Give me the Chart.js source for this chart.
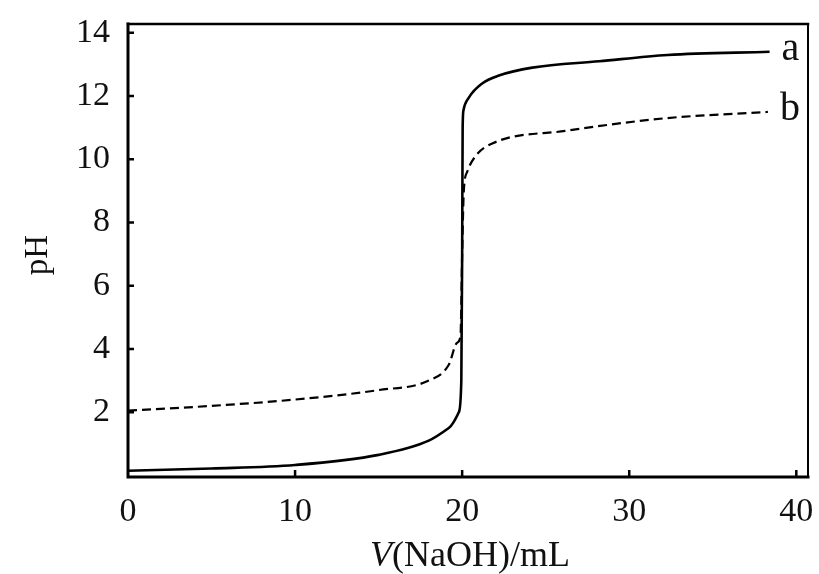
<!DOCTYPE html>
<html>
<head>
<meta charset="utf-8">
<script src="https://cdn.jsdelivr.net/npm/chart.js@4"></script>
<style>
  html, body { margin: 0; padding: 0; background: #fff; }
  #wrap { width: 819px; height: 574px; }
</style>
</head>
<body>
<div id="wrap"><canvas id="grafico"></canvas></div>
<script>
// curva a (linha cheia)
const volA = [0, 5, 10, 15, 18, 19.2, 19.8, 19.95, 20.0, 20.03, 20.08, 20.4, 21.2, 22.2, 24.2, 28.2, 32.3, 38.4];
const phA  = [0.15, 0.22, 0.33, 0.65, 1.1, 1.5, 2.0, 3.0, 7.0, 11.0, 11.55, 11.95, 12.4, 12.65, 12.9, 13.1, 13.3, 13.4];

// curva b (tracejada)
const volB = [0, 5, 10, 15, 18, 19.2, 19.7, 19.9, 20.0, 20.1, 20.3, 20.8, 21.8, 26.2, 32.2, 38.3];
const phB  = [2.05, 2.2, 2.4, 2.7, 3.0, 3.5, 4.2, 4.4, 7.0, 9.0, 9.6, 10.1, 10.5, 10.9, 11.3, 11.5];

const xTicks = [0, 10, 20, 30, 40];
const yTicks = [2, 4, 6, 8, 10, 12, 14];
const curveNames = ['a', 'b'];

const serif = "'Liberation Serif', 'DejaVu Serif', serif";

const toPoints = (xs, ys) => xs.map((x, i) => ({ x, y: ys[i] }));

// moldura, marcas internas, nomes das curvas e títulos
const framePlugin = {
  id: 'frame',
  afterDraw(chart) {
    const ctx = chart.ctx;
    const a = chart.chartArea;
    const xs = chart.scales.x;
    const ys = chart.scales.y;
    ctx.save();
    ctx.strokeStyle = '#000';
    ctx.lineCap = 'square';

    ctx.lineWidth = 3;
    ctx.beginPath();
    ctx.moveTo(a.left, a.top);
    ctx.lineTo(a.left, a.bottom);
    ctx.lineTo(a.right, a.bottom);
    ctx.stroke();

    ctx.lineWidth = 2.5;
    ctx.beginPath();
    ctx.moveTo(a.left, a.top);
    ctx.lineTo(a.right, a.top);
    ctx.stroke();

    ctx.lineWidth = 2;
    ctx.beginPath();
    ctx.moveTo(a.right, a.top);
    ctx.lineTo(a.right, a.bottom);
    ctx.stroke();

    // marcas para dentro
    ctx.lineWidth = 2.5;
    ctx.lineCap = 'butt';
    ctx.beginPath();
    yTicks.forEach(v => {
      const py = ys.getPixelForValue(v);
      ctx.moveTo(a.left, py);
      ctx.lineTo(a.left + 6, py);
    });
    xTicks.forEach(v => {
      if (v === 0) return;
      const px = xs.getPixelForValue(v);
      ctx.moveTo(px, a.bottom);
      ctx.lineTo(px, a.bottom - 7);
    });
    ctx.stroke();

    // nomes a / b na ponta das curvas
    ctx.fillStyle = '#111';
    ctx.font = '40px ' + serif;
    ctx.textBaseline = 'middle';
    ctx.textAlign = 'left';
    chart.data.datasets.forEach((ds, i) => {
      const last = ds.data[ds.data.length - 1];
      ctx.fillText(curveNames[i], xs.getPixelForValue(last.x) + 12, ys.getPixelForValue(last.y) - 2);
    });

    // título do eixo x: V(NaOH)/mL
    ctx.textBaseline = 'alphabetic';
    ctx.font = 'italic 36px ' + serif;
    const w1 = ctx.measureText('V').width;
    ctx.font = '36px ' + serif;
    const w2 = ctx.measureText('(NaOH)/mL').width;
    let sx = 470 - (w1 + w2) / 2;
    ctx.font = 'italic 36px ' + serif;
    ctx.fillText('V', sx, 566);
    ctx.font = '36px ' + serif;
    ctx.fillText('(NaOH)/mL', sx + w1, 566);

    // título do eixo y: pH
    ctx.translate(38, 255);
    ctx.rotate(-Math.PI / 2);
    ctx.textAlign = 'center';
    ctx.textBaseline = 'middle';
    ctx.font = '33px ' + serif;
    ctx.fillText('pH', 0, 0);
    ctx.restore();
  }
};

const ctx = document.getElementById('grafico').getContext('2d');
window.myChart = new Chart(ctx, {
  type: 'line',
  data: {
    datasets: [{
      label: 'a',
      data: toPoints(volA, phA),
      borderColor: '#000',
      borderWidth: 2.6,
      pointRadius: 0,
      cubicInterpolationMode: 'monotone',
      fill: false
    }, {
      label: 'b',
      data: toPoints(volB, phB),
      borderColor: '#000',
      borderWidth: 2.2,
      borderDash: [9, 5],
      pointRadius: 0,
      cubicInterpolationMode: 'monotone',
      fill: false
    }]
  },
  options: {
    responsive: true,
    maintainAspectRatio: false,
    animation: false,
    layout: { padding: { top: 24, right: 11, left: 0, bottom: 0 } },
    plugins: { legend: { display: false }, tooltip: { enabled: false } },
    scales: {
      x: {
        type: 'linear',
        min: 0,
        max: 40.7,
        grid: { display: false, drawTicks: false },
        border: { display: false },
        afterBuildTicks: s => { s.ticks = xTicks.map(v => ({ value: v })); },
        afterFit: s => { s.height = 97; s.paddingLeft = 0; s.paddingRight = 0; },
        ticks: { color: '#111', padding: 15, maxRotation: 0, font: { family: serif, size: 34 } }
      },
      y: {
        type: 'linear',
        min: -0.05,
        max: 14.28,
        grid: { display: false, drawTicks: false },
        border: { display: false },
        afterBuildTicks: s => { s.ticks = yTicks.map(v => ({ value: v })); },
        afterFit: s => { s.width = 128; s.paddingTop = 0; s.paddingBottom = 0; },
        ticks: { color: '#111', padding: 18, font: { family: serif, size: 34 } }
      }
    }
  },
  plugins: [framePlugin]
});
</script>
</body>
</html>
